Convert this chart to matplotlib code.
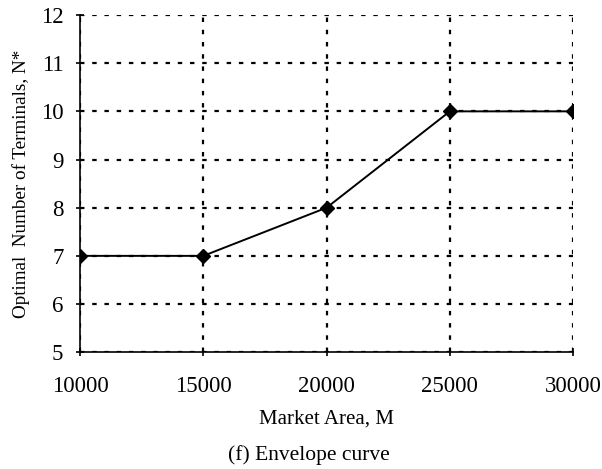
import matplotlib.pyplot as plt

market_area = [10000, 15000, 20000, 25000, 30000]
terminals = [7, 7, 8, 10, 10]
x_ticks = [10000, 15000, 20000, 25000, 30000]
y_ticks = [5, 6, 7, 8, 9, 10, 11, 12]

plt.rcParams['font.family'] = ['Liberation Serif', 'DejaVu Serif']

fig = plt.figure(figsize=(6.02, 4.69), dpi=100)
ax = fig.add_axes([0.133, 0.249, 0.819, 0.719])

ax.plot(market_area, terminals, color='black', lw=1.4, marker='D', ms=7.5, zorder=3)

ax.set_xlim(10000, 30000)
ax.set_ylim(5, 12)
ax.set_xticks(x_ticks)
ax.set_yticks(y_ticks)
ax.grid(True, color='black', linestyle=(0, (2, 3.5)), lw=1.6)
ax.spines['top'].set_visible(False)
ax.spines['right'].set_visible(False)
ax.spines['left'].set_linewidth(1.2)
ax.spines['bottom'].set_linewidth(1.2)
ax.tick_params(direction='inout', length=6, width=1.2, labelsize=16.5)
ax.tick_params(axis='x', pad=14)
ax.tick_params(axis='y', pad=9)
ax.set_axisbelow(True)

ax.set_xlabel('Market Area, M', fontsize=15, labelpad=9)
ax.set_ylabel('Optimal  Number of Terminals, N*', fontsize=13.8, labelpad=8)
fig.text(0.513, 0.03, '(f) Envelope curve', ha='center', va='center', fontsize=15.5)

fig.savefig('out.png', dpi=100)
